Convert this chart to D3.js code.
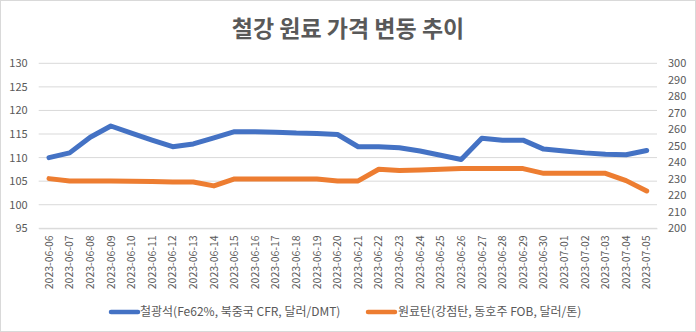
<!DOCTYPE html>
<html><head><meta charset="utf-8">
<script src="https://cdn.jsdelivr.net/npm/d3@7"></script>
<style>
body{margin:0;background:#fff;}
svg{display:block;font-family:"Noto Sans CJK KR","Noto Sans",sans-serif;}
</style></head><body>
<svg id="c" width="696" height="332"></svg>
<script>
const dates = ["2023-06-06","2023-06-07","2023-06-08","2023-06-09","2023-06-10","2023-06-11","2023-06-12","2023-06-13","2023-06-14","2023-06-15","2023-06-16","2023-06-17","2023-06-18","2023-06-19","2023-06-20","2023-06-21","2023-06-22","2023-06-23","2023-06-24","2023-06-25","2023-06-26","2023-06-27","2023-06-28","2023-06-29","2023-06-30","2023-07-01","2023-07-02","2023-07-03","2023-07-04","2023-07-05"];
const ironOre = [110.0,111.0,114.3,116.7,115.2,113.7,112.3,112.9,114.2,115.5,115.5,115.4,115.2,115.1,114.9,112.3,112.3,112.1,111.4,110.5,109.6,114.1,113.7,113.7,111.8,111.4,111.0,110.7,110.6,111.5];
const cokingCoal = [230.1,228.7,228.7,228.7,228.5,228.3,228.1,228.1,225.7,229.9,229.9,229.9,229.9,229.9,228.7,228.7,235.8,235.0,235.4,235.8,236.2,236.2,236.2,236.2,233.3,233.3,233.3,233.3,228.9,222.6];
const leftTicks = [95,100,105,110,115,120,125,130];
const rightTicks = [200,210,220,230,240,250,260,270,280,290,300];
const title = "철강 원료 가격 변동 추이";
const seriesNames = ["철광석(Fe62%, 북중국 CFR, 달러/DMT)","원료탄(강점탄, 동호주 FOB, 달러/톤)"];
const colors = ["#4472C4","#ED7D31"];

const svg = d3.select("#c");
svg.append("rect").attr("x",0.5).attr("y",0.5).attr("width",695).attr("height",331)
  .attr("fill","#fff").attr("stroke","#d9d9d9");

const L = 38.7, R = 657, T = 63.3, B = 228.3;
const x = d3.scaleBand().domain(dates).range([L,R]);
const yL = d3.scaleLinear().domain([95,130]).range([B,T]);
const yR = d3.scaleLinear().domain([200,300]).range([B,T]);

svg.append("text").attr("x",348).attr("y",37).attr("text-anchor","middle")
  .attr("font-size",23).attr("font-weight","bold").attr("fill","#595959").text(title);

// gridlines
svg.append("g").selectAll("line").data(leftTicks).join("line")
  .attr("x1",L).attr("x2",R).attr("y1",d=>yL(d)).attr("y2",d=>yL(d))
  .attr("stroke","#d9d9d9").attr("stroke-width",1);

// left axis
const gl = svg.append("g").attr("transform",`translate(${L},0)`)
  .call(d3.axisLeft(yL).tickValues(leftTicks).tickSize(0).tickPadding(11));
gl.select(".domain").remove();
gl.selectAll("text").attr("fill","#595959").attr("font-size",11).attr("font-family","'Noto Sans CJK KR',sans-serif");

// right axis
const gr = svg.append("g").attr("transform",`translate(${R},0)`)
  .call(d3.axisRight(yR).tickValues(rightTicks).tickSize(0).tickPadding(11));
gr.select(".domain").remove();
gr.selectAll("text").attr("fill","#595959").attr("font-size",11).attr("font-family","'Noto Sans CJK KR',sans-serif");

// x axis
const gx = svg.append("g").attr("transform",`translate(0,${B})`)
  .call(d3.axisBottom(x).tickSize(0).tickPadding(0));
gx.select(".domain").attr("stroke","#d9d9d9");
gx.selectAll("text").attr("fill","#595959").attr("font-size",10.5)
  .attr("font-family","'Noto Sans CJK KR',sans-serif")
  .attr("text-anchor","end").attr("dy","0.35em")
  .attr("transform","translate(0,7) rotate(-90)").attr("x",0).attr("y",0);

const cx = d => x(d) + x.bandwidth()/2;
const lineL = d3.line().x((d,i)=>cx(dates[i])).y(d=>yL(d));
const lineR = d3.line().x((d,i)=>cx(dates[i])).y(d=>yR(d));
svg.append("path").attr("d",lineL(ironOre)).attr("fill","none").attr("stroke",colors[0])
  .attr("stroke-width",5).attr("stroke-linejoin","round").attr("stroke-linecap","round");
svg.append("path").attr("d",lineR(cokingCoal)).attr("fill","none").attr("stroke",colors[1])
  .attr("stroke-width",5).attr("stroke-linejoin","round").attr("stroke-linecap","round");

// legend
const leg = [{x1:111,x2:138,tx:140},{x1:368,x2:395,tx:398}];
leg.forEach((l,i)=>{
  svg.append("line").attr("x1",l.x1).attr("x2",l.x2).attr("y1",312).attr("y2",312)
    .attr("stroke",colors[i]).attr("stroke-width",4.5).attr("stroke-linecap","round");
  svg.append("text").attr("x",l.tx).attr("y",312).attr("dy","0.35em")
    .attr("font-size",12).attr("fill","#595959").text(seriesNames[i]);
});
</script>
</body></html>
